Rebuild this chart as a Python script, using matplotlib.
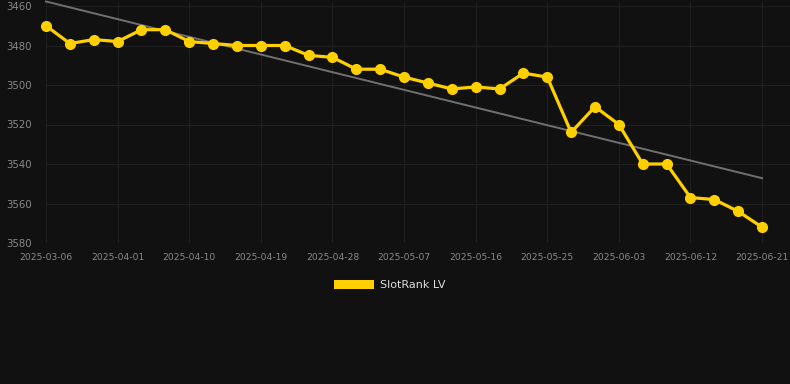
import numpy as np
import matplotlib.pyplot as plt
from matplotlib.patches import Patch

# rank values, one point every 3 days (category axis)
ranks = [3470, 3479, 3477, 3478, 3472, 3472, 3478, 3479, 3480, 3480, 3480,
         3485, 3486, 3492, 3492, 3496, 3499, 3502, 3501, 3502, 3494, 3496,
         3524, 3511, 3520, 3540, 3540, 3557, 3558, 3564, 3572]
tick_labels = ['2025-03-06', '2025-04-01', '2025-04-10', '2025-04-19', '2025-04-28',
               '2025-05-07', '2025-05-16', '2025-05-25', '2025-06-03', '2025-06-12',
               '2025-06-21']
y_ticks = [3460, 3480, 3500, 3520, 3540, 3560, 3580]

bg = '#111111'
yellow = '#ffd000'

x = np.arange(len(ranks))
coef = np.polyfit(x, ranks, 1)
trend = np.polyval(coef, x)

fig = plt.figure(figsize=(7.9, 3.84), dpi=100, facecolor=bg)
ax = fig.add_axes([46 / 790, (384 - 243) / 384, 744 / 790, 241 / 384])
ax.set_facecolor(bg)

ax.plot(x, trend, color='#707070', linewidth=1.4, clip_on=False, zorder=2)
ax.plot(x, ranks, color=yellow, linewidth=2.3, marker='o', markersize=7,
        clip_on=False, zorder=3)

ax.set_xlim(0, 744 / 23.87)
ax.set_ylim(3580, 3460 - 4 / 1.975)
ax.set_yticks(y_ticks)
ax.set_xticks(x[::3])
ax.set_xticklabels(tick_labels)
ax.tick_params(axis='x', colors='#8a8a8a', labelsize=6.6, length=0, pad=7)
ax.tick_params(axis='y', colors='#8a8a8a', labelsize=7.3, length=0, pad=10)
ax.grid(True, color='#202020', linewidth=0.8)
for s in ax.spines.values():
    s.set_visible(False)

fig.legend(handles=[Patch(facecolor=yellow, label='SlotRank LV')],
           loc='center', bbox_to_anchor=(390 / 790, 1 - 285 / 384),
           frameon=False, handlelength=3.6, handleheight=0.9, handletextpad=0.5,
           labelcolor='#dddddd', fontsize=8)

fig.savefig('out.png', dpi=100, facecolor=bg)
